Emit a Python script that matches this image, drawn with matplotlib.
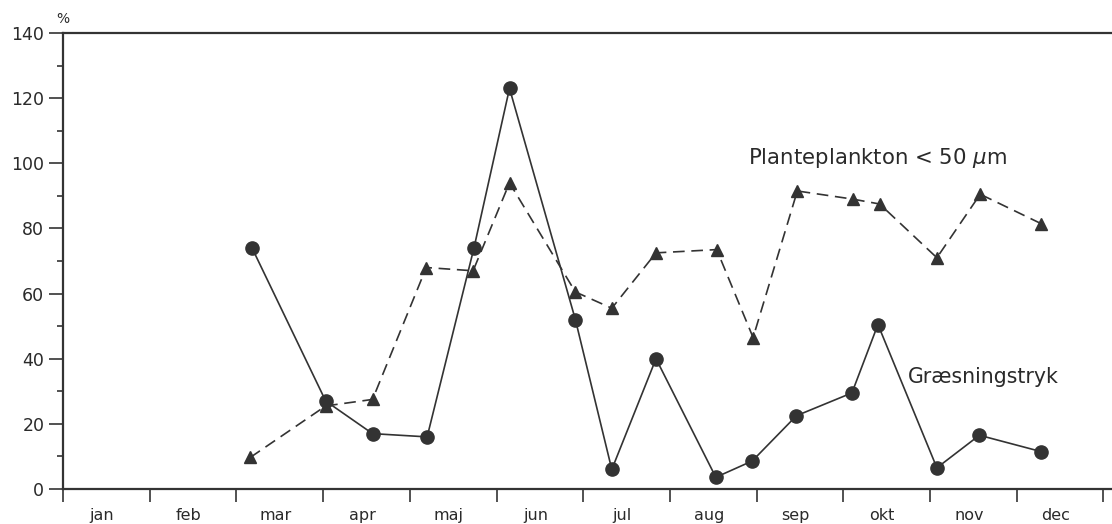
import matplotlib
matplotlib.use('Agg')
from matplotlib import pyplot as plt
from matplotlib.ticker import MultipleLocator

# month position (0 = start of jan), values in %
graes_x = [2.18, 3.03, 3.57, 4.20, 4.74, 5.15, 5.91, 6.33, 6.84, 7.53, 7.95, 8.46, 9.10, 9.40, 10.08, 10.57, 11.28]
graes_y = [74, 27, 17, 16, 74, 123, 52, 6, 40, 3.6, 8.6, 22.5, 29.5, 50.5, 6.5, 16.5, 11.5]

plank_x = [2.16, 3.03, 3.57, 4.19, 4.73, 5.15, 5.91, 6.33, 6.84, 7.54, 7.96, 8.47, 9.11, 9.42, 10.08, 10.58, 11.28]
plank_y = [9.7, 25.5, 27.5, 68, 67, 94, 60.5, 55.5, 72.5, 73.5, 46.5, 91.5, 89, 87.5, 71, 90.5, 81.5]

months = ['jan', 'feb', 'mar', 'apr', 'maj', 'jun', 'jul', 'aug', 'sep', 'okt', 'nov', 'dec']

col = '#333333'
txtcol = '#2a2a2a'
plt.rcParams['font.family'] = ['DejaVu Sans']

fig = plt.figure(figsize=(11.12, 5.24), dpi=100)
ax = fig.add_axes([0.0567, 0.0668, 0.9433, 0.8702])

ax.plot(graes_x, graes_y, '-o', color=col, lw=1.2, ms=9.5, clip_on=False)
ax.plot(plank_x, plank_y, '--^', color=col, lw=1.2, ms=9, dashes=(7, 4), clip_on=False)

ax.set_xlim(0, 12.1)
ax.set_ylim(0, 140)

ax.set_xticks(range(13))
ax.set_xticklabels([])
ax.set_xticks([i + 0.45 for i in range(12)], minor=True)
ax.set_xticklabels(months, minor=True)
ax.tick_params(axis='x', which='major', direction='out', length=9, width=1.2, color=col)
ax.tick_params(axis='x', which='minor', length=0, pad=14, labelsize=11.5, labelcolor=txtcol)

ax.yaxis.set_major_locator(MultipleLocator(20))
ax.yaxis.set_minor_locator(MultipleLocator(10))
ax.tick_params(axis='y', which='major', direction='out', length=10, width=1.2, color=col,
               labelsize=12.5, labelcolor=txtcol)
ax.tick_params(axis='y', which='minor', direction='out', length=4, width=1.2, color=col)

for s in ['left', 'bottom', 'top']:
    ax.spines[s].set_linewidth(1.6)
    ax.spines[s].set_color(col)
ax.spines['right'].set_visible(False)

ax.text(0, 142, '%', fontsize=10, color=txtcol, ha='center', va='bottom')
ax.text(9.39, 101.6, 'Planteplankton < 50 $\\mu$m', fontsize=15.3, color=txtcol,
        ha='center', va='center')
ax.text(10.61, 34.4, 'Græsningstryk', fontsize=14.8, color=txtcol, ha='center', va='center')

fig.savefig('out.png', dpi=100)
